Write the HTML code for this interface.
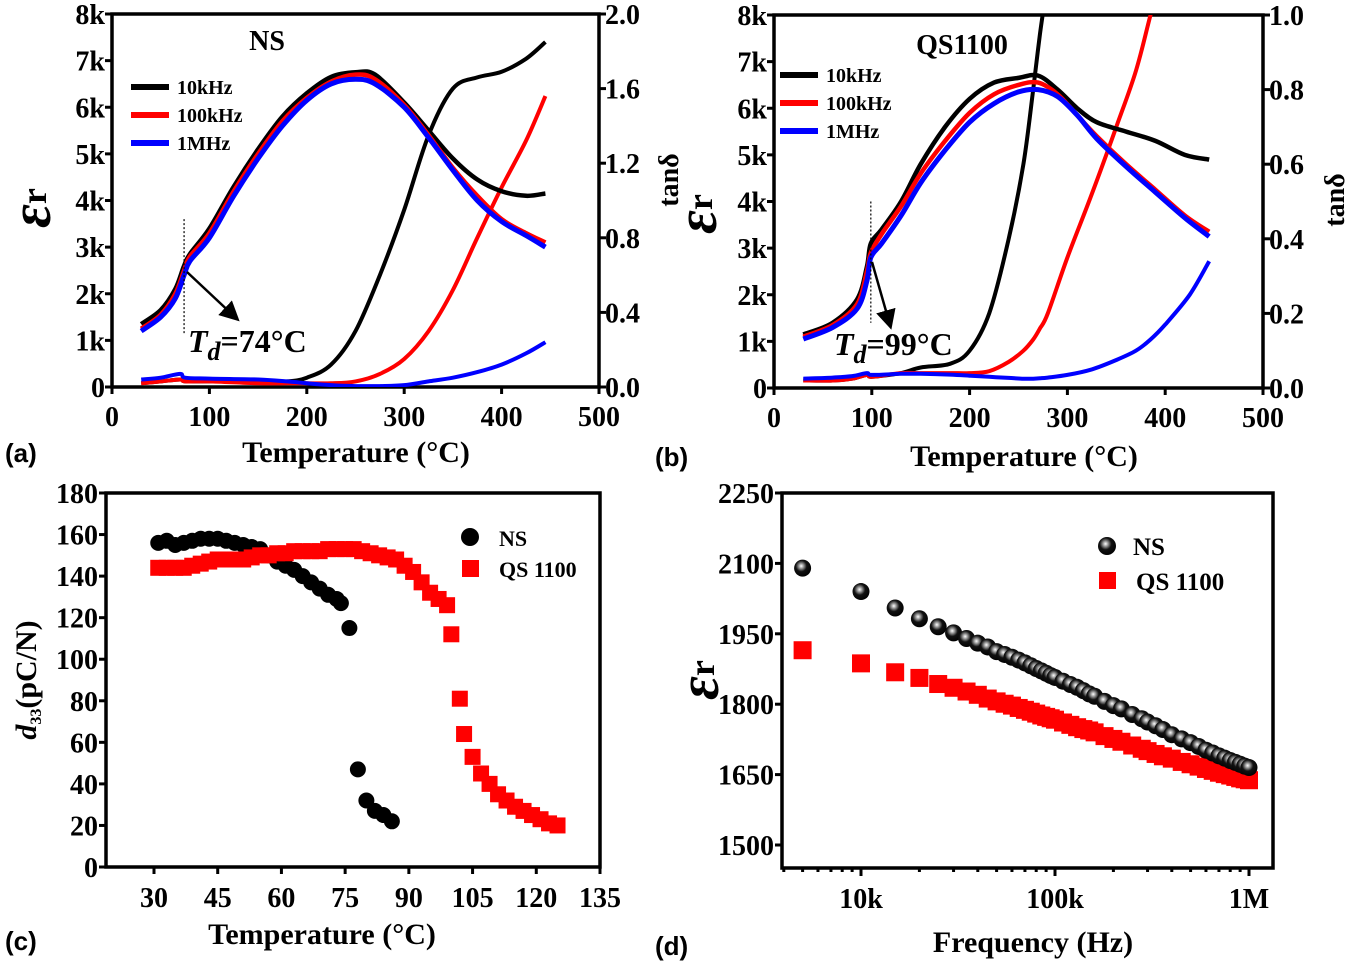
<!DOCTYPE html>
<html><head><meta charset="utf-8">
<style>
html,body{margin:0;padding:0;background:#fff;}
svg{display:block;}
text{font-family:"Liberation Serif",serif;font-weight:bold;fill:#000;}
.tick{font-size:28px;}
.title{font-size:30px;}
.plab{font-family:"Liberation Sans",sans-serif;font-size:26px;}
</style></head>
<body>
<svg id="fig" width="1352" height="965" viewBox="0 0 1352 965" xmlns="http://www.w3.org/2000/svg">
<defs>
<radialGradient id="sph" cx="0.42" cy="0.38" r="0.65">
<stop offset="0" stop-color="#fff"/><stop offset="0.18" stop-color="#aaa"/><stop offset="0.5" stop-color="#111"/><stop offset="1" stop-color="#000"/>
</radialGradient>
<clipPath id="clipA"><rect x="112" y="14" width="487" height="373"/></clipPath>
<clipPath id="clipB"><rect x="774" y="15" width="489" height="373"/></clipPath>
<marker id="arr" markerWidth="8" markerHeight="8" refX="6" refY="4" orient="auto" markerUnits="strokeWidth"><path d="M0,0 L8,4 L0,8 z" fill="#000"/></marker>
</defs>
<g id="root"></g>
</svg>
<script>
// ---------- Panel (a) data: NS ----------
const aT = [30,50,65,74,80,100,125,150,175,200,225,250,270,300,325,350,375,400,425,445];
const aEps10k = [1.35,1.65,2.1,2.6,2.85,3.4,4.3,5.1,5.8,6.3,6.65,6.75,6.7,6.1,5.5,4.9,4.45,4.2,4.1,4.15];
const aEps100k = [1.25,1.55,2.0,2.5,2.8,3.3,4.2,5.0,5.7,6.2,6.55,6.7,6.6,6.05,5.4,4.7,4.1,3.6,3.3,3.1];
const aEps1M = [1.2,1.5,1.9,2.4,2.7,3.2,4.1,4.9,5.6,6.15,6.5,6.6,6.5,6.0,5.35,4.65,4.0,3.55,3.25,3.0];
const aTanT = [30,50,70,75,100,150,180,200,225,250,275,300,325,350,375,400,425,445];
const aTan10k = [0.02,0.03,0.04,0.03,0.03,0.03,0.03,0.05,0.12,0.3,0.6,0.95,1.35,1.6,1.66,1.69,1.76,1.85];
const aTan100k = [0.02,0.03,0.04,0.03,0.03,0.02,0.02,0.02,0.02,0.03,0.07,0.15,0.3,0.52,0.8,1.07,1.32,1.56];
const aTan1M = [0.04,0.05,0.07,0.05,0.045,0.04,0.03,0.02,0.01,0.005,0.005,0.01,0.03,0.05,0.08,0.12,0.18,0.24];
// ---------- Panel (b) data: QS1100 ----------
const bT = [30,60,85,95,99,110,130,150,175,200,225,250,270,290,310,330,360,390,420,445];
const bEps10k = [1.15,1.4,1.9,2.6,3.1,3.4,4.0,4.8,5.6,6.2,6.55,6.65,6.7,6.4,6.0,5.7,5.5,5.3,5.0,4.9];
const bEps100k = [1.1,1.35,1.8,2.5,2.9,3.3,3.9,4.6,5.3,5.9,6.3,6.5,6.55,6.3,5.85,5.4,4.8,4.25,3.7,3.35];
const bEps1M = [1.05,1.3,1.7,2.3,2.8,3.1,3.7,4.4,5.1,5.7,6.1,6.35,6.4,6.25,5.85,5.35,4.75,4.2,3.65,3.25];
const bTanT = [30,60,80,95,100,130,150,180,200,220,240,255,265,272,280,300,325,350,370,385,400,425,445];
const bTan10k = [0.02,0.02,0.025,0.035,0.03,0.04,0.055,0.065,0.1,0.2,0.4,0.6,0.8,0.95,1.1,1.5,2,2.5,3,3.5,4,4.5,5];
const bTan100k = [0.02,0.02,0.025,0.035,0.03,0.04,0.04,0.04,0.04,0.045,0.07,0.1,0.13,0.16,0.2,0.35,0.52,0.7,0.85,1.0,1.15,1.3,1.45];
const bTan1M = [0.025,0.028,0.032,0.04,0.035,0.038,0.038,0.036,0.033,0.03,0.027,0.025,0.025,0.026,0.028,0.035,0.05,0.075,0.1,0.13,0.17,0.25,0.34];
// ---------- Panel (c) data: d33 vs T ----------
const cNST = [31,33,35,37,39,41,43,45,47,49,51,53,55,57,59,61,63,65,67,69,71,73,74,76,78,80,82,84,86];
const cNSd33 = [156,157,155,156,157,158,158,158,157,156,155,154,153,150,147,145,143,140,137,134,131,129,127,115,47,32,27,25,22];
const cQST = [31,33,35,37,39,41,43,45,47,49,51,53,55,57,59,61,63,65,67,69,71,73,75,77,79,81,83,85,87,89,91,93,95,97,99,100,102,103,105,107,109,111,113,115,117,119,121,123,125];
const cQSd33 = [144,144,144,144,145,146,147,148,148,148,148,149,150,150,151,151,152,152,152,152,153,153,153,153,152,151,150,149,148,145,142,137,132,129,126,112,81,64,53,45,40,35,32,29,27,25,23,21,20];
// ---------- Panel (d) data: eps vs frequency ----------
const dFreq = [5e3,1e4,1.5e4,2e4,2.5e4,3e4,3.5e4,4e4,4.5e4,5e4,5.5e4,6e4,6.5e4,7e4,7.5e4,8e4,8.5e4,9e4,9.5e4,1e5,1.1e5,1.2e5,1.3e5,1.4e5,1.5e5,1.6e5,1.8e5,2e5,2.2e5,2.5e5,2.8e5,3e5,3.3e5,3.6e5,4e5,4.5e5,5e5,5.5e5,6e5,6.5e5,7e5,7.5e5,8e5,8.5e5,9e5,9.5e5,1e6];
const dNS = [2090,2040,2005,1982,1965,1952,1940,1930,1922,1912,1906,1900,1894,1888,1882,1876,1871,1866,1861,1857,1849,1842,1836,1829,1822,1817,1806,1797,1790,1778,1769,1762,1754,1746,1735,1726,1718,1710,1702,1696,1690,1685,1680,1676,1672,1668,1665];
const dQS = [1915,1887,1868,1856,1843,1835,1827,1820,1812,1806,1801,1797,1792,1788,1784,1780,1776,1773,1770,1767,1761,1756,1751,1747,1744,1740,1732,1726,1720,1712,1705,1700,1694,1689,1684,1677,1672,1667,1662,1658,1654,1651,1648,1645,1642,1640,1638];

const NS = "http://www.w3.org/2000/svg";
const root = document.getElementById('root');
function mk(tag, attrs, parent){
  const e = document.createElementNS(NS, tag);
  for (const k in attrs) e.setAttribute(k, attrs[k]);
  (parent||root).appendChild(e);
  return e;
}
function txt(x,y,s,cls,anchor,parent){
  const t = mk('text',{x:x,y:y,class:cls,'text-anchor':anchor||'start'},parent);
  t.textContent = s;
  return t;
}
function smoothPath(pts){
  let d = 'M'+pts[0][0].toFixed(1)+','+pts[0][1].toFixed(1);
  for (let i=0;i<pts.length-1;i++){
    const p0=pts[Math.max(0,i-1)],p1=pts[i],p2=pts[i+1],p3=pts[Math.min(pts.length-1,i+2)];
    const c1x=p1[0]+(p2[0]-p0[0])/6, c1y=p1[1]+(p2[1]-p0[1])/6;
    const c2x=p2[0]-(p3[0]-p1[0])/6, c2y=p2[1]-(p3[1]-p1[1])/6;
    d+=' C'+c1x.toFixed(1)+','+c1y.toFixed(1)+' '+c2x.toFixed(1)+','+c2y.toFixed(1)+' '+p2[0].toFixed(1)+','+p2[1].toFixed(1);
  }
  return d;
}
function frame(L,T,R,B,name){
  const r = mk('rect',{x:L,y:T,width:R-L,height:B-T,fill:'none',stroke:'#000','stroke-width':3.5});
  
  
}
function tick(x1,y1,x2,y2){ mk('line',{x1:x1,y1:y1,x2:x2,y2:y2,stroke:'#000','stroke-width':3}); }

function tempPanel(cfg){
  const {L,R,T,B,tanMax,clip} = cfg;
  const xs = t => L + t/500*(R-L);
  const ye = v => B - v/8*(B-T);
  const yt = v => B - v/tanMax*(B-T);
  frame(L,T,R,B,cfg.id+'-plot-frame');
  const xt=[0,100,200,300,400,500];
  xt.forEach(v=>{ tick(xs(v),B,xs(v),B+7);
    const t=txt(xs(v),B+39,String(v),'tick','middle');
    
    
  });
  const yk=['0','1k','2k','3k','4k','5k','6k','7k','8k'];
  yk.forEach((s,i)=>{ tick(L-7,ye(i),L,ye(i));
    const t=txt(L-7,ye(i)+10,s,'tick','end');
    
    
  });
  cfg.tanTicks.forEach(v=>{ tick(R,yt(v),R+7,yt(v));
    const t=txt(R+6,yt(v)+10,v.toFixed(1),'tick','start');
    
    
  });
  const g = mk('g',{'clip-path':'url(#'+clip+')'});
  
  
  const cols=['#000','#f00','#00f'];
  const freqNames=['10khz','100khz','1mhz'];
  cfg.tan.forEach((arr,i)=>{
    const p=mk('path',{d:smoothPath(cfg.tanT.map((t,j)=>[xs(t),yt(arr[j])])),fill:'none',stroke:cols[i],'stroke-width':4},g);
    
    
  });
  cfg.eps.forEach((arr,i)=>{
    const p=mk('path',{d:smoothPath(cfg.epsT.map((t,j)=>[xs(t),ye(arr[j])])),fill:'none',stroke:cols[i],'stroke-width':i==2?5:4.5},g);
    
    
  });
  const labs=['10kHz','100kHz','1MHz'];
  labs.forEach((s,i)=>{
    const y=cfg.legY+i*cfg.legDy;
    const l=mk('line',{x1:cfg.legX,y1:y,x2:cfg.legX+38,y2:y,stroke:cols[i],'stroke-width':6});
    
    
    const t=txt(cfg.legX+46,y+7,s,'','start'); t.setAttribute('font-size','20');
    
    
  });
  const dl=mk('line',{x1:xs(cfg.Td),y1:ye(cfg.dotTop),x2:xs(cfg.Td),y2:ye(cfg.dotBot),stroke:'#000','stroke-width':1.2,'stroke-dasharray':'2,2'});
  
  
  const ar=mk('line',{x1:cfg.arr[0],y1:cfg.arr[1],x2:cfg.arr[2],y2:cfg.arr[3],stroke:'#000','stroke-width':2.5,'marker-end':'url(#arr)'});
  
  
  const at=mk('text',{x:cfg.tdX,y:cfg.tdY,'font-size':'32'});
  
  
  at.innerHTML='<tspan font-style="italic">T</tspan><tspan font-style="italic" font-size="26" dy="8">d</tspan><tspan dy="-8">='+cfg.Td+'°C</tspan>';
  const st=txt(cfg.sampX,cfg.sampY,cfg.samp,'','middle'); st.setAttribute('font-size','28');
  
  
}

tempPanel({id:'panel-a',L:112,R:599,T:14,B:387,tanMax:2,clip:'clipA',tanTicks:[0,0.4,0.8,1.2,1.6,2.0],
  epsT:aT,eps:[aEps10k,aEps100k,aEps1M],tanT:aTanT,tan:[aTan10k,aTan100k,aTan1M],
  legX:131,legY:87,legDy:28,Td:74,dotTop:3.6,dotBot:1.15,arr:[187,272,236,318],tdX:188,tdY:352,samp:'NS',sampX:267,sampY:50});
tempPanel({id:'panel-b',L:774,R:1263,T:15,B:388,tanMax:1,clip:'clipB',tanTicks:[0,0.2,0.4,0.6,0.8,1.0],
  epsT:bT,eps:[bEps10k,bEps100k,bEps1M],tanT:bTanT,tan:[bTan10k,bTan100k,bTan1M],
  legX:780,legY:75,legDy:28,Td:99,dotTop:4.0,dotBot:1.4,arr:[872,262,890,325],tdX:834,tdY:355,samp:'QS1100',sampX:962,sampY:54});

[['panel-a',356,462,'(a)',5],['panel-b',1024,466,'(b)',655]].forEach(([id,cx,y,lab,lx])=>{
  const t=txt(cx,y,'Temperature (°C)','title','middle');
  
  
  const p=txt(lx,y,lab,'plab','start');
  
  
});
function epsTitle(x,y,id){
  const g=mk('g',{transform:'translate('+x+','+y+') rotate(-90)'});
  
  
  const t=mk('text',{x:0,y:0,'text-anchor':'middle','font-size':'58','font-style':'italic'},g);
  t.innerHTML='ε<tspan font-size="36" font-style="normal" dy="-4">r</tspan>';
}
epsTitle(50,208,'panel-a');
epsTitle(716,214,'panel-b');
function tanTitle(x,y,id){
  const g=mk('g',{transform:'translate('+x+','+y+') rotate(-90)'});
  
  
  const t=mk('text',{x:0,y:0,'text-anchor':'middle','font-size':'28'},g);
  t.textContent='tanδ';
}
tanTitle(678,180,'panel-a');
tanTitle(1344,200,'panel-b');

// ===== Panel C =====
(function(){
  const L=106,R=600,T=493,B=867;
  const xs=t=>154+(t-30)*(600-154)/105;
  const ys=v=>B-v/180*(B-T);
  frame(L,T,R,B,'panel-c-plot-frame');
  [30,45,60,75,90,105,120,135].forEach(v=>{tick(xs(v),B,xs(v),B+7);
    const t=txt(xs(v),B+40,String(v),'tick','middle');
    
    });
  [0,20,40,60,80,100,120,140,160,180].forEach(v=>{tick(L-7,ys(v),L,ys(v));
    const t=txt(L-8,ys(v)+10,String(v),'tick','end');
    
    });
  cNST.forEach((t,i)=>{const c=mk('circle',{cx:xs(t),cy:ys(cNSd33[i]),r:8,fill:'#000'});
    
    });
  cQST.forEach((t,i)=>{const r=mk('rect',{x:xs(t)-8,y:ys(cQSd33[i])-8,width:16,height:16,fill:'#f00'});
    
    });
  const lc=mk('circle',{cx:470,cy:537,r:9,fill:'#000'});
   
  const ln=txt(499,546,'NS','','start'); ln.setAttribute('font-size','22');
   
  const lr=mk('rect',{x:462,y:560,width:17,height:17,fill:'#f00'});
   
  const lq=txt(499,577,'QS 1100','','start'); lq.setAttribute('font-size','22');
   
  const xt=txt(322,944,'Temperature (°C)','title','middle');
   
  const pl=txt(5,950,'(c)','plab','start');
   
  const g=mk('g',{transform:'translate(36,680) rotate(-90)'});
   
  const t=mk('text',{x:0,y:0,'text-anchor':'middle','font-size':'30'},g);
  t.innerHTML='<tspan font-style="italic">d</tspan><tspan font-size="16" dy="5">33</tspan><tspan dy="-5">(pC/N)</tspan>';
})();

// ===== Panel D =====
(function(){
  const L=782,R=1273,T=493,B=868;
  const xs=f=>861+(Math.log10(f)-4)*194;
  const ys=v=>845-(v-1500)/150*70.4;
  frame(L,T,R,B,'panel-d-plot-frame');
  [[1e4,'10k'],[1e5,'100k'],[1e6,'1M']].forEach(([f,s])=>{tick(xs(f),B,xs(f),B+8);
    const t=txt(xs(f),B+40,s,'tick','middle');
     });
  [4e3,5e3,6e3,7e3,8e3,9e3,2e4,3e4,4e4,5e4,6e4,7e4,8e4,9e4,2e5,3e5,4e5,5e5,6e5,7e5,8e5,9e5].forEach(f=>{
    if(xs(f)>L&&xs(f)<R) tick(xs(f),B,xs(f),B+4);});
  [1500,1650,1800,1950,2100,2250].forEach(v=>{tick(L-7,ys(v),L,ys(v));
    const t=txt(L-8,ys(v)+10,String(v),'tick','end');
     });
  dFreq.forEach((f,i)=>{const r=mk('rect',{x:xs(f)-9,y:ys(dQS[i])-9,width:18,height:18,fill:'#f00'});
     });
  dFreq.forEach((f,i)=>{const c=mk('circle',{cx:xs(f),cy:ys(dNS[i]),r:8.5,fill:'url(#sph)'});
     });
  const lc=mk('circle',{cx:1107,cy:546,r:9,fill:'url(#sph)'});
   
  const ln=txt(1133,555,'NS','','start'); ln.setAttribute('font-size','25');
   
  const lr=mk('rect',{x:1099,y:572,width:17,height:17,fill:'#f00'});
   
  const lq=txt(1136,590,'QS 1100','','start'); lq.setAttribute('font-size','25');
   
  const xt=txt(1033,952,'Frequency (Hz)','title','middle');
   
  const pl=txt(655,955,'(d)','plab','start');
   
  epsTitle(718,680,'panel-d');
})();
</script>
</body></html>
